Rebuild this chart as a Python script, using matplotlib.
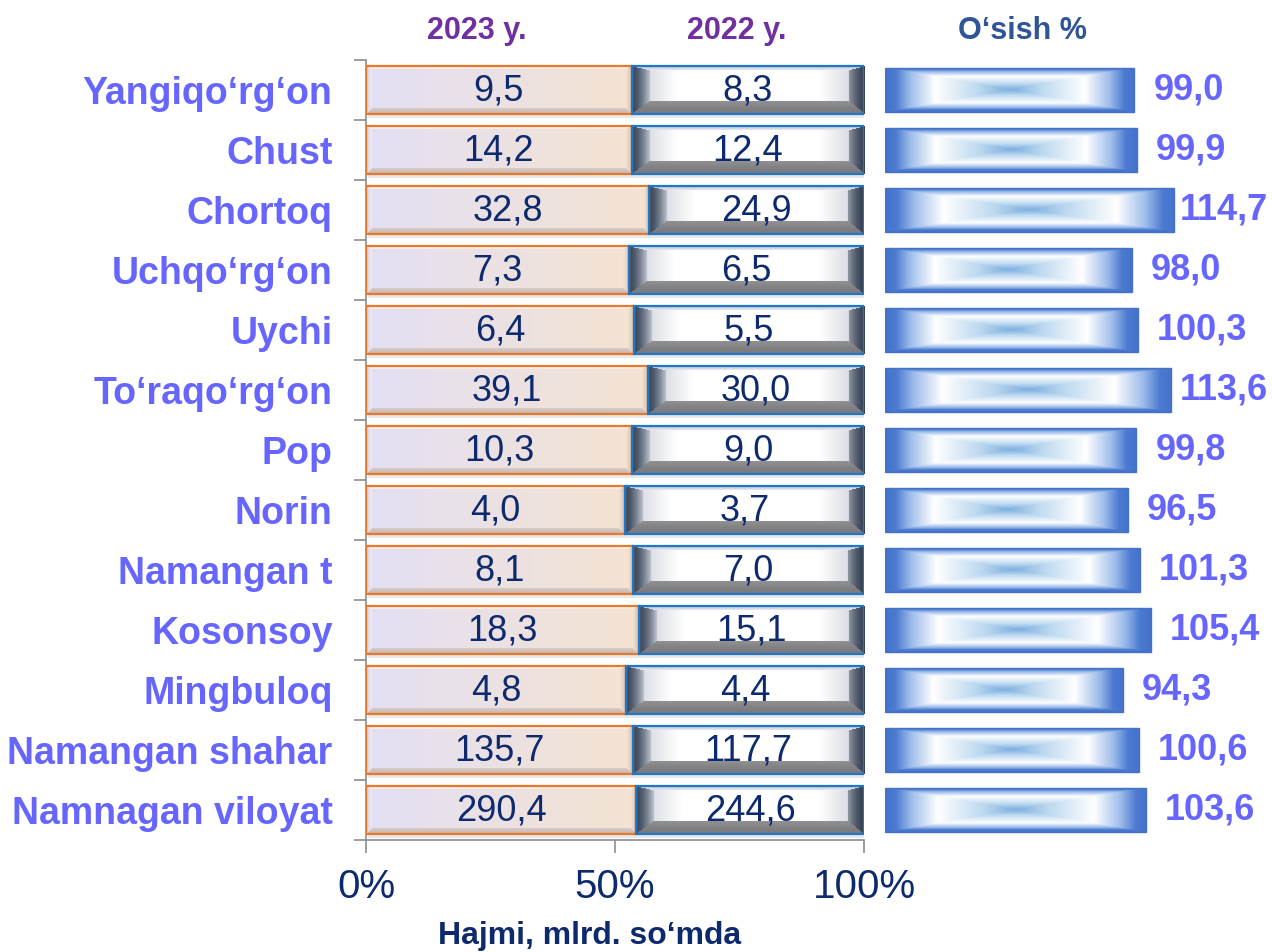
import numpy as np
import matplotlib
matplotlib.use("Agg")
import matplotlib.pyplot as plt

plt.rcParams['font.family'] = ['Liberation Sans', 'DejaVu Sans']

# ---------------- data ----------------
regions = ["Yangiqo‘rg‘on", "Chust", "Chortoq", "Uchqo‘rg‘on", "Uychi",
           "To‘raqo‘rg‘on", "Pop", "Norin", "Namangan t", "Kosonsoy",
           "Mingbuloq", "Namangan shahar", "Namnagan viloyat"]
v2023 = [9.5, 14.2, 32.8, 7.3, 6.4, 39.1, 10.3, 4.0, 8.1, 18.3, 4.8, 135.7, 290.4]
v2022 = [8.3, 12.4, 24.9, 6.5, 5.5, 30.0, 9.0, 3.7, 7.0, 15.1, 4.4, 117.7, 244.6]
growth = [99.0, 99.9, 114.7, 98.0, 100.3, 113.6, 99.8, 96.5, 101.3, 105.4, 94.3, 100.6, 103.6]
x_ticks = [0, 50, 100]
x_ticklabels = ["0%", "50%", "100%"]
header_2023 = "2023 y."
header_2022 = "2022 y."
header_growth = "O‘sish %"
x_title = "Hajmi, mlrd. so‘mda"

LABEL_C = "#6666FF"
NAVY = "#0E2A6E"
PURPLE = "#7030A0"
DKBLUE = "#2F5597"

W, H = 1272, 952
fig = plt.figure(figsize=(W / 100, H / 100), dpi=100)
fig.patch.set_facecolor("white")

ax1 = fig.add_axes([366 / W, 1 - 840 / H, 498 / W, 780 / H])
ax2 = fig.add_axes([885 / W, 1 - 840 / H, 387 / W, 780 / H])

n = len(regions)
y = np.arange(n)
tot = np.array(v2023) + np.array(v2022)
s23 = np.array(v2023) / tot * 100
s22 = np.array(v2022) / tot * 100


def lerp(a, b, t):
    a = np.array(a, float); b = np.array(b, float)
    t = np.clip(t, 0, 1)[..., None]
    return a + (b - a) * t


def bevel(wpx, hpx, center, faces, sizes, gamma=1.0):
    wpx = max(int(wpx), 4)
    hpx = max(int(hpx), 4)
    xx, yy = np.meshgrid(np.arange(wpx), np.arange(hpx))
    d = {
        'l': xx / sizes['l'],
        'r': (wpx - 1 - xx) / sizes['r'],
        't': yy / sizes['t'],
        'b': (hpx - 1 - yy) / sizes['b'],
    }
    img = center(xx, yy, wpx, hpx)
    stack = np.stack([d['l'], d['r'], d['t'], d['b']])
    arg = np.argmin(stack, axis=0)
    mn = np.min(stack, axis=0)
    for i, k in enumerate(['l', 'r', 't', 'b']):
        m = (arg == i) & (mn < 1)
        col = lerp(faces[k][0], faces[k][1], np.clip(d[k], 0, 1) ** gamma)
        img[m] = col[m]
    return img


def center23(xx, yy, w, h):
    return lerp((0.89, 0.88, 0.96), (0.96, 0.89, 0.82), xx / max(w - 1, 1))


faces23 = {'l': ((0.84, 0.82, 0.87), (0.95, 0.93, 0.97)),
           'r': ((0.84, 0.76, 0.70), (0.96, 0.90, 0.84)),
           't': ((0.99, 0.95, 0.92), (0.95, 0.91, 0.90)),
           'b': ((0.78, 0.72, 0.70), (0.86, 0.80, 0.78))}


def center22(xx, yy, w, h):
    dpx = np.minimum(xx, w - 1 - xx)
    t = np.interp(dpx, [0, 18, 45], [0.6, 0.6, 0.0])
    return lerp((1, 1, 1), (0.78, 0.80, 0.84), t)


faces22 = {'l': ((0.24, 0.29, 0.36), (0.78, 0.80, 0.84)),
           'r': ((0.22, 0.26, 0.33), (0.58, 0.61, 0.66)),
           't': ((0.78, 0.80, 0.84), (0.95, 0.95, 0.96)),
           'b': ((0.48, 0.48, 0.49), (0.58, 0.58, 0.59))}

G_T = [0.0, 0.25, 0.6, 0.8, 0.92, 1.0]
G_C = np.array([(0.48, 0.68, 0.88), (0.74, 0.85, 0.94), (1, 1, 1),
                (0.62, 0.74, 0.92), (0.30, 0.48, 0.82), (0.27, 0.45, 0.80)])


def blue_img(wpx, hpx):
    wpx = max(int(wpx), 4); hpx = max(int(hpx), 4)
    u, v = np.meshgrid(np.linspace(0, 1, wpx), np.linspace(0, 1, hpx))
    t = np.maximum(np.abs(u - 0.5), np.abs(v - 0.5)) / 0.5
    img = np.stack([np.interp(t, G_T, G_C[:, k]) for k in range(3)], axis=-1)
    return img


PX = 498 / 100.0  # px per percent
BH = 0.8
bars23 = ax1.barh(y, s23, height=BH, color="none", edgecolor="#E8782A", linewidth=1.6, zorder=3)
bars22 = ax1.barh(y, s22, left=s23, height=BH, color="none", edgecolor="#1F77C8", linewidth=1.6, zorder=3)

# soft shadows
ax1.barh(y + 0.06, s23 + s22, height=BH, left=0.4, color="#d9d9d9", zorder=1, alpha=0.6)

for i in range(n):
    hpx = BH * 60
    img = bevel(s23[i] * PX, hpx, center23, faces23, {'l': 6, 'r': 6, 't': 3, 'b': 6})
    im = ax1.imshow(img, extent=(0, s23[i], y[i] + BH / 2, y[i] - BH / 2),
                    aspect='auto', origin='upper', interpolation='bilinear', zorder=2)
    im.set_clip_path(bars23[i])
    img = bevel(s22[i] * PX, hpx, center22, faces22, {'l': 18, 'r': 16, 't': 4, 'b': 13}, gamma=1.6)
    im = ax1.imshow(img, extent=(s23[i], s23[i] + s22[i], y[i] + BH / 2, y[i] - BH / 2),
                    aspect='auto', origin='upper', interpolation='bilinear', zorder=2)
    im.set_clip_path(bars22[i])
    ax1.text(s23[i] / 2, y[i] + 0.02, f"{v2023[i]:.1f}".replace('.', ','), ha='center', va='center',
             fontsize=26, color=NAVY, zorder=5)
    ax1.text(s23[i] + s22[i] / 2, y[i] + 0.02, f"{v2022[i]:.1f}".replace('.', ','), ha='center', va='center',
             fontsize=26, color=NAVY, zorder=5)

ax1.set_xlim(0, 100)
ax1.set_ylim(n - 0.5, -0.5)
for s in ['top', 'right']:
    ax1.spines[s].set_visible(False)
for s in ['left', 'bottom']:
    ax1.spines[s].set_color("#8c8c8c")
    ax1.spines[s].set_linewidth(1.2)
ax1.set_yticks(np.arange(-0.5, n, 1.0))
ax1.set_yticklabels([])
ax1.tick_params(axis='y', which='major', length=9, width=1.2, color="#8c8c8c", direction='out')
ax1.set_yticks(y, minor=True)
ax1.set_yticklabels(regions, minor=True, fontsize=27, fontweight='bold', color=LABEL_C)
ax1.tick_params(axis='y', which='minor', length=0, pad=24)
ax1.set_xticks(x_ticks)
ax1.set_xticklabels(x_ticklabels, fontsize=29, color=NAVY)
ax1.tick_params(axis='x', length=9, width=1.2, color="#8c8c8c", pad=11)

# right panel: growth
BH2 = 0.74
gb = ax2.barh(y, growth, height=BH2, color="none", edgecolor="#4472C4", linewidth=1.0, zorder=3)
PX2 = 2.52
for i in range(n):
    img = blue_img(growth[i] * PX2, BH2 * 60)
    im = ax2.imshow(img, extent=(0, growth[i], y[i] + BH2 / 2, y[i] - BH2 / 2),
                    aspect='auto', origin='upper', interpolation='bilinear', zorder=2)
    im.set_clip_path(gb[i])
ax2.set_xlim(0, 387 / PX2)
ax2.set_ylim(n - 0.5, -0.5)
ax2.axis('off')

gtexts = []
for i in range(n):
    t = ax2.text(growth[i] + 7.5, y[i], f"{growth[i]:.1f}".replace('.', ','), ha='left', va='center',
                 fontsize=26, fontweight='bold', color=LABEL_C, zorder=5)
    gtexts.append(t)

fig.canvas.draw()
r = fig.canvas.get_renderer()
inv = ax2.transData.inverted()
for t in gtexts:
    bb = t.get_window_extent(r)
    if bb.x1 > W - 4:
        shift = bb.x1 - (W - 4)
        x0, y0 = t.get_position()
        dx = inv.transform((bb.x0 - shift, 0))[0] - inv.transform((bb.x0, 0))[0]
        t.set_position((x0 + dx, y0))

fig.text(477 / W, 1 - 31 / H, header_2023, ha='center', va='center', fontsize=22,
         fontweight='bold', color=PURPLE)
fig.text(737 / W, 1 - 31 / H, header_2022, ha='center', va='center', fontsize=22,
         fontweight='bold', color=PURPLE)
fig.text(1022 / W, 1 - 31 / H, header_growth, ha='center', va='center', fontsize=22,
         fontweight='bold', color=DKBLUE)
fig.text(590 / W, 1 - 936 / H, x_title, ha='center', va='center', fontsize=23,
         fontweight='bold', color=NAVY)

fig.savefig("out.png", dpi=100, facecolor="white")
